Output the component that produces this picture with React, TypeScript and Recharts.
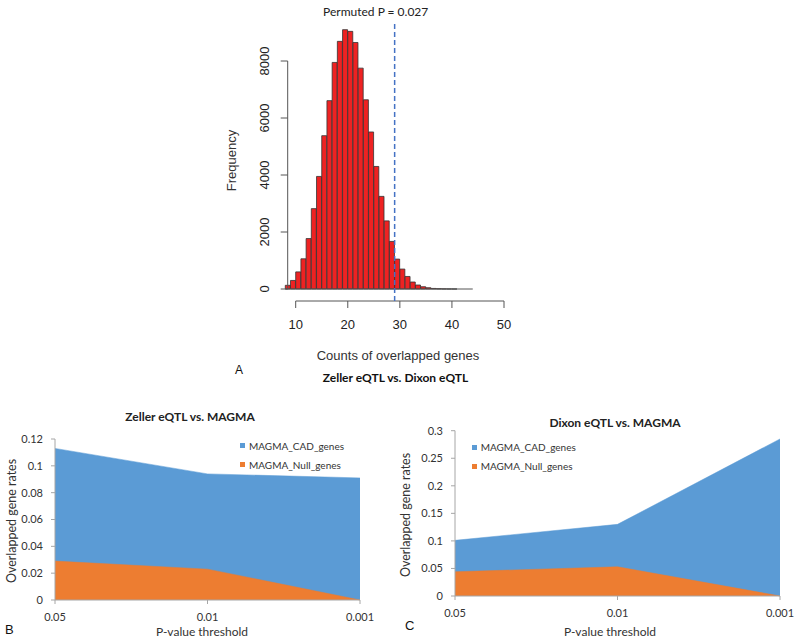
import React from "react";
import { Area, AreaChart, Bar, ComposedChart, Legend, ReferenceLine, XAxis, YAxis } from "recharts";

// A: permutation histogram, bins of width 1 starting at binStarts[i]
const binStarts = [
  8, 9, 10, 11, 12, 13, 14, 15, 16, 17, 18, 19, 20, 21, 22, 23, 24, 25,
  26, 27, 28, 29, 30, 31, 32, 33, 34, 35, 36, 37, 38, 39, 40, 41, 42, 43,
];
const binCounts = [
  130, 300, 600, 1060, 1770, 2820, 3950, 5380, 6610, 7950, 8690, 9100, 9040, 8650, 7750, 6640, 5510, 4300,
  3250, 2390, 1670, 1050, 700, 440, 245, 140, 80, 45, 20, 10, 5, 2, 1, 0, 0, 0,
];
const observedCount = 29;
const histXTicks = [10, 20, 30, 40, 50];
const histYTicks = [0, 2000, 4000, 6000, 8000];

// B / C: overlap rates per P-value threshold
const pThresholds = ["0.05", "0.01", "0.001"];
const zellerCad = [0.113, 0.094, 0.091];
const zellerNull = [0.029, 0.023, 0];
const dixonCad = [0.101, 0.13, 0.285];
const dixonNull = [0.044, 0.053, 0];
const zellerYTicks = [0, 0.02, 0.04, 0.06, 0.08, 0.1, 0.12];
const dixonYTicks = [0, 0.05, 0.1, 0.15, 0.2, 0.25, 0.3];

const CAD_COLOR = "#5B9BD5";
const NULL_COLOR = "#ED7D31";
const R_FONT = "'Liberation Sans', Arial, sans-serif";
const XL_FONT = "Lato, 'Open Sans', sans-serif";

const histData = binStarts.map((b, i) => ({ mid: b + 0.5, count: binCounts[i] }));
const X_MIN = 8.464;
const Y_MIN = -421;
const Y_MAX = 9404;

function Histogram() {
  const yTick = (props: any) => (
    <text
      transform={`translate(${props.x},${props.y}) rotate(-90)`}
      textAnchor="middle"
      fontSize={13}
      fill="#222"
    >
      {props.payload.value}
    </text>
  );
  return (
    <div style={{ position: "absolute", left: 200, top: 0, fontFamily: R_FONT }}>
      <ComposedChart
        width={330}
        height={400}
        data={histData}
        margin={{ top: 21, right: 26, bottom: 0, left: 0 }}
        barCategoryGap={0}
        barGap={0}
      >
        <XAxis
          dataKey="mid"
          type="number"
          domain={[X_MIN, 50]}
          ticks={histXTicks}
          interval={0}
          height={99}
          axisLine={false}
          tickSize={7}
          tickMargin={12}
          tickLine={{ stroke: "#555" }}
          tick={{ fontSize: 13, fill: "#222" }}
        />
        <YAxis
          type="number"
          domain={[Y_MIN, Y_MAX]}
          ticks={histYTicks}
          interval={0}
          width={87.7}
          axisLine={false}
          tickSize={7}
          tickMargin={12}
          tickLine={{ stroke: "#555" }}
          tick={yTick}
        />
        <Bar dataKey="count" fill="#EE2222" stroke="#333" strokeWidth={0.8} isAnimationActive={false} />
        <ReferenceLine segment={[{ x: binStarts[0], y: 0 }, { x: 44, y: 0 }]} stroke="#555" ifOverflow="visible" />
        <ReferenceLine segment={[{ x: X_MIN, y: 0 }, { x: X_MIN, y: 8000 }]} stroke="#555" ifOverflow="visible" />
        <ReferenceLine segment={[{ x: 10, y: Y_MIN }, { x: 50, y: Y_MIN }]} stroke="#555" ifOverflow="visible" />
        <ReferenceLine x={observedCount} stroke="#4472C4" strokeWidth={1.5} strokeDasharray="5 3" />
        <text x={175.7} y={16} textAnchor="middle" fontSize={12} fontFamily={XL_FONT} fill="#222">
          Permuted P = 0.027
        </text>
        <text transform="translate(36,160.5) rotate(-90)" textAnchor="middle" fontSize={13} fill="#333">
          Frequency
        </text>
        <text x={198} y={360} textAnchor="middle" fontSize={13} fill="#333">
          Counts of overlapped genes
        </text>
        <text x={35} y={373.5} fontSize={12} fill="#111">
          A
        </text>
        <text x={195.5} y={382} textAnchor="middle" fontSize={12} fontWeight="bold" fontFamily={XL_FONT} fill="#111">
          Zeller eQTL vs. Dixon eQTL
        </text>
      </ComposedChart>
    </div>
  );
}

type PanelProps = {
  left: number;
  title: string;
  letter: string;
  cad: number[];
  nul: number[];
  yTicks: number[];
  plotTop: number;
  plotRight: number;
  plotBottom: number;
  xTickMargin: number;
  titleX: number;
  titleY: number;
  yTitleX: number;
  yTitleY: number;
  xTitleX: number;
  legendX: number;
  legendY: number;
  letterY: number;
};

const PAD = 8; // extra room left of each panel so the rotated title is not clipped

function OverlapPanel(p: PanelProps) {
  const data = pThresholds.map((t, i) => ({ p: t, cad: p.cad[i], nul: p.nul[i] }));
  return (
    <div style={{ position: "absolute", left: p.left - PAD, top: 400, fontFamily: XL_FONT }}>
      <AreaChart
        width={400 + PAD}
        height={241}
        data={data}
        margin={{ top: p.plotTop, right: 400 - p.plotRight, bottom: 0, left: 0 }}
      >
        <XAxis
          dataKey="p"
          height={241 - p.plotBottom}
          stroke="#A6A6A6"
          tickSize={4}
          tickMargin={p.xTickMargin}
          tick={{ fontSize: 11, fill: "#333" }}
          interval={0}
        />
        <YAxis
          type="number"
          domain={[0, p.yTicks[p.yTicks.length - 1]]}
          ticks={p.yTicks}
          interval={0}
          width={55 + PAD}
          stroke="#A6A6A6"
          tickSize={4}
          tickMargin={8}
          tickFormatter={(v: number) => String(v)}
          tick={{ fontSize: 11, fill: "#333" }}
        />
        <Area
          type="linear"
          dataKey="cad"
          name="MAGMA_CAD_genes"
          fill={CAD_COLOR}
          fillOpacity={1}
          stroke={CAD_COLOR}
          strokeWidth={0.5}
          isAnimationActive={false}
        />
        <Area
          type="linear"
          dataKey="nul"
          name="MAGMA_Null_genes"
          fill={NULL_COLOR}
          fillOpacity={1}
          stroke={NULL_COLOR}
          strokeWidth={0.5}
          isAnimationActive={false}
        />
        <Legend
          layout="vertical"
          align="center"
          verticalAlign="middle"
          wrapperStyle={{ left: p.legendX + PAD, top: p.legendY, width: "auto" }}
          content={({ payload }: any) => (
            <div>
              {(payload || []).map((e: any) => (
                <div
                  key={e.value}
                  style={{ display: "flex", alignItems: "center", height: 19, fontSize: 10, color: "#333" }}
                >
                  <span style={{ width: 5, height: 5, background: e.color, marginRight: 4 }} />
                  {e.value}
                </div>
              ))}
            </div>
          )}
        />
        <text x={p.titleX + PAD} y={p.titleY} textAnchor="middle" fontSize={12} fontWeight="bold" fill="#222">
          {p.title}
        </text>
        <text
          transform={`translate(${p.yTitleX + PAD},${p.yTitleY}) rotate(-90)`}
          textAnchor="middle"
          fontSize={12.5}
          fill="#333"
        >
          Overlapped gene rates
        </text>
        <text x={p.xTitleX + PAD} y={235.5} textAnchor="middle" fontSize={12} fill="#333">
          P-value threshold
        </text>
        <text x={5 + PAD} y={p.letterY} fontSize={13} fontFamily={R_FONT} fill="#111">
          {p.letter}
        </text>
      </AreaChart>
    </div>
  );
}

export default function App() {
  return (
    <div style={{ position: "absolute", left: 0, top: 0, width: 800, height: 641, background: "#fff", overflow: "hidden" }}>
      <Histogram />
      <OverlapPanel
        left={0}
        title="Zeller eQTL vs. MAGMA"
        letter="B"
        cad={zellerCad}
        nul={zellerNull}
        yTicks={zellerYTicks}
        plotTop={39}
        plotRight={360}
        plotBottom={200}
        xTickMargin={9.5}
        titleX={190}
        titleY={20.5}
        yTitleX={16}
        yTitleY={121}
        xTitleX={202}
        legendX={240}
        legendY={36.3}
        letterY={233.5}
      />
      <OverlapPanel
        left={400}
        title="Dixon eQTL vs. MAGMA"
        letter="C"
        cad={dixonCad}
        nul={dixonNull}
        yTicks={dixonYTicks}
        plotTop={30.7}
        plotRight={380}
        plotBottom={196}
        xTickMargin={9}
        titleX={215}
        titleY={27}
        yTitleX={10}
        yTitleY={115}
        xTitleX={210}
        legendX={71.7}
        legendY={37.7}
        letterY={230}
      />
    </div>
  );
}
